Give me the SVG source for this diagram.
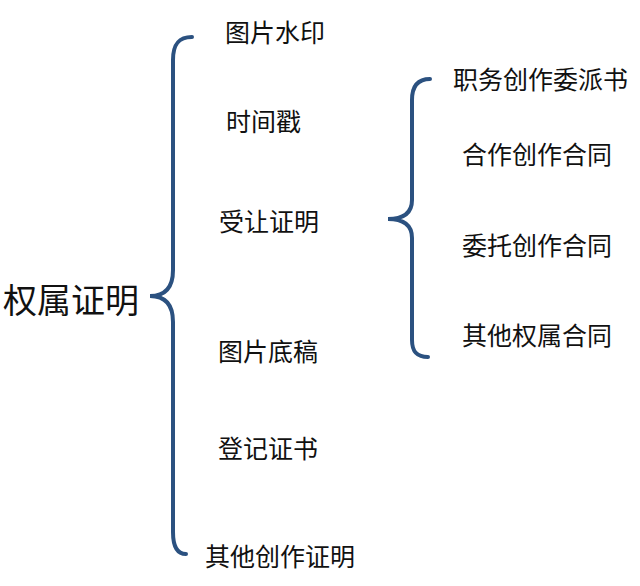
<svg xmlns="http://www.w3.org/2000/svg" width="640" height="586" viewBox="0 0 640 586">
<style>
text{font-family:"Noto Sans CJK SC",sans-serif;fill:#111;dominant-baseline:central}
.s{font-size:25px}
.b{fill:none;stroke:#2b5180;stroke-width:4;stroke-linecap:round}
</style>
<rect width="640" height="586" fill="#fff"/>
<g id="connectors">
<path class="b" d="M192,37 C178,37 173,45 173,60 L173,270 C173,288 165,296 150,296 C165,296 173,304 173,322 L173,532 C173,547 178,554 186,554"/>
<path class="b" d="M430,79 C417,79 412,87 412,100 L412,200 C412,213 403,219 388,219 C403,219 412,225 412,238 L412,340 C412,352 417,357 428,357"/>
</g>
<g id="root"><text x="3" y="298" font-size="34">权属证明</text></g>
<g id="n1"><text class="s" x="225" y="31">图片水印</text></g>
<g id="n2"><text class="s" x="226" y="120">时间戳</text></g>
<g id="n3"><text class="s" x="219" y="220">受让证明</text></g>
<g id="n4"><text class="s" x="218" y="350">图片底稿</text></g>
<g id="n5"><text class="s" x="218" y="447">登记证书</text></g>
<g id="n6"><text class="s" x="205" y="555">其他创作证明</text></g>
<g id="r1"><text class="s" x="453" y="78">职务创作委派书</text></g>
<g id="r2"><text class="s" x="462" y="153">合作创作合同</text></g>
<g id="r3"><text class="s" x="462" y="244">委托创作合同</text></g>
<g id="r4"><text class="s" x="462" y="334">其他权属合同</text></g>
</svg>
